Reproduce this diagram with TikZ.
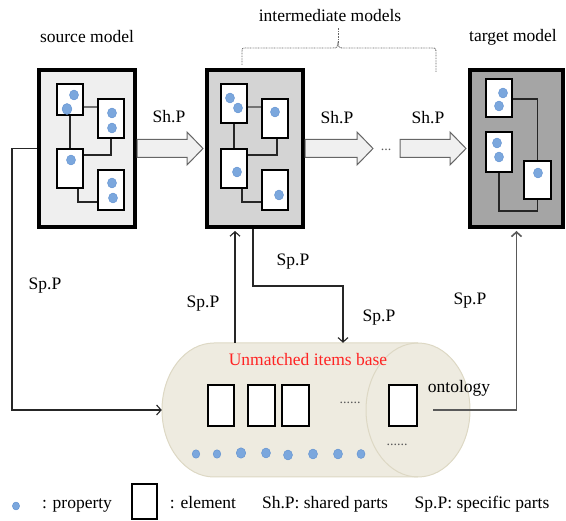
\documentclass[tikz,border=0pt]{standalone}
\usepackage{fontspec}
\setmainfont{Liberation Serif}
\usetikzlibrary{arrows.meta,calc,shadows}

\definecolor{srcfill}{HTML}{EFEFEF}
\definecolor{midfill}{HTML}{D4D4D4}
\definecolor{tgtfill}{HTML}{A5A5A5}
\definecolor{propfill}{HTML}{7BA7DD}
\definecolor{propdraw}{HTML}{5E8FD0}
\definecolor{basefill}{HTML}{EEEBE0}
\definecolor{basedraw}{HTML}{DDD8C4}
\definecolor{arrowfill}{HTML}{F0F0F0}
\definecolor{shadowpink}{HTML}{D9B5B5}
\definecolor{basered}{HTML}{FF2424}

% one property: a small blue ellipse
\newcommand\propdot[3][1]{\path[prop] (#2,#3) ellipse [x radius=4.5*#1, y radius=5*#1];}
% block arrow carrying shared parts, drawn between two anchors
\newcommand\sharedarrow[2]{%
  \draw[blockarrow] let \p1=(#1), \p2=(#2) in
    (\x1,\y1+9pt) -- (\x2-16pt,\y1+9pt) -- (\x2-16pt,\y1+16.5pt) -- (\x2,\y1)
    -- (\x2-16pt,\y1-16.5pt) -- (\x2-16pt,\y1-9pt) -- (\x1,\y1-9pt) -- cycle;}

\begin{document}
\begin{tikzpicture}[x=1pt,y=-1pt,
  font=\fontsize{17.5}{20}\selectfont,
  model/.style={draw=black, line width=4pt, inner sep=0pt,
    minimum width=96pt, minimum height=157pt,
    general shadow={shadow xshift=1.5pt, shadow yshift=-2.5pt, fill=shadowpink}},
  elem/.style={draw=black, fill=white, line width=1.4pt, inner sep=0pt,
    minimum width=26pt, minimum height=39pt},
  prop/.style={fill=propfill, draw=propdraw, line width=0.4pt},
  link/.style={draw=black!85, line width=1.3pt},
  biglink/.style={draw=black!55, line width=2.6pt},
  conn/.style={draw=black!85, line width=1.1pt},
  tconn/.style={draw=black!65, line width=1.6pt},
  tip/.style={-{Straight Barb[length=4.5pt,width=10pt]}},
  lbl/.style={inner sep=0pt, anchor=base, text=black},
  dots/.style={inner sep=0pt, text=black!65, font=\fontsize{14}{16}\selectfont},
  brace/.style={draw=black!60, line width=0.9pt, dash pattern=on 0.8pt off 0.8pt},
  blockarrow/.style={draw=black!60, fill=arrowfill, line width=1pt, line join=miter},
]
\useasboundingbox (0,0) rectangle (566,521);

% ---------- titles ----------
\node[lbl] (srctitle) at (87,43) {source model};
\node[lbl] (midtitle) at (330,22) {intermediate models};
\node[lbl] (tgttitle) at (513,42) {target model};

% brace grouping the intermediate models
\draw[brace] (242,65) -- (242,53) .. controls (242,48) .. (247,48) -- (332,48)
  .. controls (337,48) .. (338,43) .. controls (339,48) .. (344,48) -- (431,48)
  .. controls (436,48) .. (436,53) -- (436,72);
\draw[brace] (338,43) -- (338,28);

% ---------- model boxes ----------
\node[model, fill=srcfill] (src) at (87,148.5) {};
\node[model, fill=midfill] (mid) at (255,148.5) {};
\node[model, fill=tgtfill, minimum width=93pt] (tgt) at (516.5,148.5) {};

% source model content
\node[elem, minimum height=31pt] (s1) at (70,99.5) {};
\node[elem] (s2) at (111,118.5) {};
\node[elem] (s3) at (70,168.5) {};
\node[elem, minimum height=40pt] (s4) at (111,190) {};
\draw[biglink] (s1.east |- 0,107) -- (s2.west |- 0,107);
\draw[link] (s1.south) -- (s3.north);
\draw[link] (s3.east |- 0,155) -| (s2.south);
\draw[link] (s3.south -| 78,0) |- (s4.west |- 0,202);
\propdot{74}{95}\propdot[1.1]{67}{109}
\propdot{112}{113}\propdot{112}{128}
\propdot{71}{160}
\propdot{112}{183}\propdot{113}{198}

% intermediate model content
\node[elem] (m1) at (234,103.5) {};
\node[elem] (m2) at (275,118.5) {};
\node[elem] (m3) at (234,168.5) {};
\node[elem, minimum height=40pt] (m4) at (275,190) {};
\draw[biglink] (m1.east |- 0,107) -- (m2.west |- 0,107);
\draw[link] (m1.south) -- (m3.north);
\draw[link] (m3.east |- 0,155) -| (m2.south -| 277,0);
\draw[link] (m3.south -| 242,0) |- (m4.west |- 0,202);
\propdot{230}{98}\propdot{238}{108}
\propdot{275}{112}
\propdot{237}{172}
\propdot{279}{195}

% target model content
\node[elem, minimum height=38pt] (t1) at (499,98) {};
\node[elem, minimum height=40pt] (t2) at (499,152) {};
\node[elem, minimum width=27pt, minimum height=38pt] (t3) at (537.5,180) {};
\draw[link] (t1.east |- 0,99) -| (t3.north);
\draw[link] (t2.south) |- (537.5,211) -- (t3.south);
\propdot{503}{93}\propdot{499}{106}
\propdot{497}{143}\propdot{499}{157}
\propdot{538}{173}

% ---------- shared parts ----------
\coordinate (chainend) at (373,148.5);
\coordinate (chainstart) at (400,148.5);
\sharedarrow{src.east}{[xshift=-2pt]mid.west}
\sharedarrow{mid.east}{chainend}
\sharedarrow{chainstart}{[xshift=-2pt]tgt.west}
\node[lbl] (sh1) at (169,123) {Sh.P};
\node[lbl] (sh2) at (337,124) {Sh.P};
\node[lbl] (sh3) at (428,124) {Sh.P};
\node[dots] (chaindots) at (386,150) {...};

% ---------- unmatched items base ----------
\path[fill=basefill, draw=basedraw, line width=1pt]
  (214,343) -- (418,343) arc[start angle=-90, end angle=90, x radius=52, y radius=67]
  -- (214,477) arc[start angle=90, end angle=270, x radius=52, y radius=67] -- cycle;
\draw[basedraw, line width=1pt]
  (418,343) arc[start angle=-90, end angle=-270, x radius=52, y radius=67];
\node[inner sep=0pt, minimum width=308pt, minimum height=134pt] (base) at (316,410) {};

\node[lbl, text=basered] (basetitle) at (308,366) {Unmatched items base};
\node[lbl] (onto) at (459,393) {ontology};
\node[elem, minimum height=41pt] (b1) at (221,405.5) {};
\node[elem, minimum width=27pt, minimum height=41pt] (b2) at (261.5,405.5) {};
\node[elem, minimum width=27pt, minimum height=41pt] (b3) at (295.5,405.5) {};
\node[elem, minimum width=28pt, minimum height=41pt] (b4) at (403,405.5) {};
\node[dots] (basedots1) at (350,403) {......};
\node[dots] (basedots2) at (397,445) {......};
\propdot[0.85]{196}{454}\propdot[0.85]{217}{454}\propdot[1.05]{241}{453}
\propdot[1.0]{266}{453}\propdot[1.0]{288}{455}\propdot[1.0]{313}{454}
\propdot[1.0]{338}{454}\propdot[0.9]{361}{454}

% ---------- specific parts ----------
\coordinate (ontout) at (433,410);
\draw[conn, tip] (src.west) -| (12,410) -- (base.west);
\draw[conn, tip, shorten >=2pt] (base.north -| 235,0) -- (mid.south -| 235,0);
\draw[conn, tip] (mid.south -| 253,0) |- (343,286) -- (base.north -| 343,0);
\draw[tconn, tip, shorten >=2pt] (ontout) -| (tgt.south);
\node[lbl] (sp1) at (45,290) {Sp.P};
\node[lbl] (sp2) at (293,266) {Sp.P};
\node[lbl] (sp3) at (203,308) {Sp.P};
\node[lbl] (sp4) at (379,322) {Sp.P};
\node[lbl] (sp5) at (470,305) {Sp.P};

% ---------- legend ----------
\propdot[0.8]{16}{506}
\node[lbl] (legprop) at (77,509) {: property};
\node[elem, minimum width=25pt, minimum height=35pt] (legelem) at (144.5,501.5) {};
\node[lbl] (legelemtxt) at (203,509) {: element};
\node[lbl] (legsh) at (325,509) {Sh.P: shared parts};
\node[lbl] (legsp) at (482,509) {Sp.P: specific parts};
\end{tikzpicture}
\end{document}
